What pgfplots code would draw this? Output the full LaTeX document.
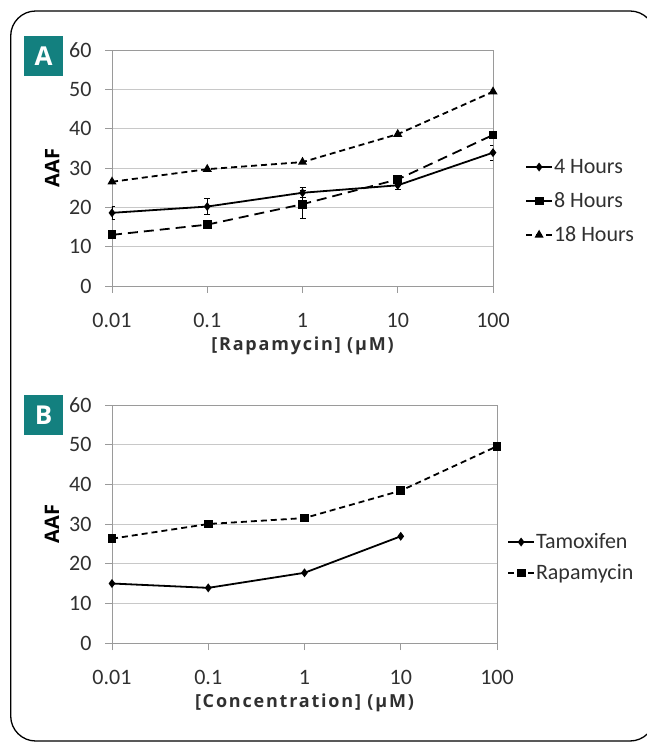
\documentclass[border=0pt]{standalone}
\usepackage{fontspec}
\setmainfont{Carlito}
\newfontfamily\labfont[LetterSpace=10]{Open Sans}
\newfontfamily\osfont{Open Sans}
\usepackage{pgfplots}
\pgfplotsset{compat=1.18}
\definecolor{boxteal}{HTML}{13807F}
\definecolor{gridgray}{HTML}{C8C8C8}
\definecolor{framegray}{HTML}{9A9A9A}
\definecolor{txt}{HTML}{303030}

\pgfplotstableread{
x y e
0.01 18.6 1.7
0.1 20.2 2.0
1 23.7 1.3
10 25.6 1.1
100 33.9 1.9
}\fourh
\pgfplotstableread{
x y e
0.01 13.0 0.4
0.1 15.6 0.4
1 20.8 3.5
10 27.1 0.8
100 38.4 0.5
}\eighth
\pgfplotstableread{
x y
0.01 26.5
0.1 29.7
1 31.5
10 38.6
100 49.4
}\eighteenh
\pgfplotstableread{
x y
0.01 15.0
0.1 13.9
1 17.7
10 26.9
}\tamox
\pgfplotstableread{
x y
0.01 26.3
0.1 30.0
1 31.5
10 38.4
100 49.6
}\rapa

\pgfplotsset{
  every axis/.append style={
    anchor=south west, scale only axis,
    xmin=0.01, xmax=100, ymin=0, ymax=60,
    ytick={0,10,...,60},
    xtick={0.01,0.1,1,10,100}, xticklabels={0.01,0.1,1,10,100},
    xminorticks=false,
    ymajorgrids, major grid style={color=gridgray, line width=0.8pt},
    axis line style={color=framegray, line width=0.8pt},
    tick style={color=framegray, line width=0.8pt},
    tick align=outside, major tick length=7pt,
    xtick pos=bottom, ytick pos=left,
    ticklabel style={font=\fontsize{22}{24}\selectfont, text=txt},
    xticklabel style={yshift=-17pt},
    yticklabel style={xshift=-10pt},
    /pgf/number format/assume math mode=true,
    xlabel style={font=\labfont\bfseries\fontsize{18}{20}\selectfont, text=txt},
    ylabel style={font=\osfont\bfseries\fontsize{20}{22}\selectfont, text=black},
    legend cell align=left,
  },
  legend image code/.code={\draw[mark repeat=2,mark phase=2,#1] plot coordinates {(0pt,0pt) (13pt,0pt) (26pt,0pt)};},
}

\begin{document}
\begin{tikzpicture}[x=1pt,y=1pt]
\useasboundingbox (0,0) rectangle (647,742);
\begin{scope}
\clip (0,0) rectangle (647,742);
\draw[line width=1.3pt, rounded corners=25pt] (10.7,1) rectangle (655,731);
\end{scope}

\begin{semilogxaxis}[at={(112pt,456pt)}, width=381pt, height=236pt,
  xlabel={[Rapamycin] (µM)}, ylabel={AAF},
  xlabel style={at={(axis description cs:0.5,-0.254)}, anchor=center},
  ylabel style={at={(axis description cs:-0.157,0.5)}, anchor=center},
  legend style={draw=none, fill=none, at={(1.084,0.36)}, anchor=west, inner sep=0pt,
    font=\fontsize{22}{24}\selectfont, text=txt, row sep=12pt,
    nodes={inner sep=1pt, text height=16pt, text depth=4pt}},
]
\addplot[black, line width=1.8pt, mark=diamond*, mark size=3pt, mark options={solid},
  error bars/y dir=both, error bars/y explicit,
  error bars/error bar style={line width=0.8pt, black, solid},
  error bars/error mark options={rotate=90, mark size=3pt, line width=0.8pt, black}]
  table[x=x, y=y, y error=e] {\fourh};
\addlegendentry{4 Hours}
\addplot[black, line width=1.8pt, dash pattern=on 10pt off 6pt, mark=square*, mark size=3.5pt, mark options={solid},
  error bars/y dir=both, error bars/y explicit,
  error bars/error bar style={line width=0.8pt, black, solid},
  error bars/error mark options={rotate=90, mark size=3pt, line width=0.8pt, black}]
  table[x=x, y=y, y error=e] {\eighth};
\addlegendentry{8 Hours}
\addplot[black, line width=1.8pt, dash pattern=on 6pt off 4pt, mark=triangle*, mark size=3.5pt, mark options={solid}]
  table[x=x, y=y] {\eighteenh};
\addlegendentry{18 Hours}
\end{semilogxaxis}

\begin{semilogxaxis}[at={(112pt,99pt)}, width=385pt, height=238pt,
  xlabel={[Concentration] (µM)}, ylabel={AAF},
  xlabel style={at={(axis description cs:0.5,-0.252)}, anchor=center},
  ylabel style={at={(axis description cs:-0.156,0.5)}, anchor=center},
  legend style={draw=none, fill=none, at={(1.026,0.359)}, anchor=west, inner sep=0pt,
    font=\fontsize{22}{24}\selectfont, text=txt, row sep=9pt,
    nodes={inner sep=1pt, text height=16pt, text depth=4pt}},
]
\addplot[black, line width=1.8pt, mark=diamond*, mark size=3pt, mark options={solid}]
  table[x=x, y=y] {\tamox};
\addlegendentry{Tamoxifen}
\addplot[black, line width=1.8pt, dash pattern=on 6pt off 4pt, mark=square*, mark size=3.5pt, mark options={solid}]
  table[x=x, y=y] {\rapa};
\addlegendentry{Rapamycin}
\end{semilogxaxis}

\fill[boxteal] (24,666) rectangle (63,706);
\node[white, font=\osfont\bfseries\fontsize{26}{26}\selectfont] at (43.5,686) {A};
\fill[boxteal] (24,307) rectangle (63,347);
\node[white, font=\osfont\bfseries\fontsize{26}{26}\selectfont] at (43.5,327) {B};
\end{tikzpicture}
\end{document}
